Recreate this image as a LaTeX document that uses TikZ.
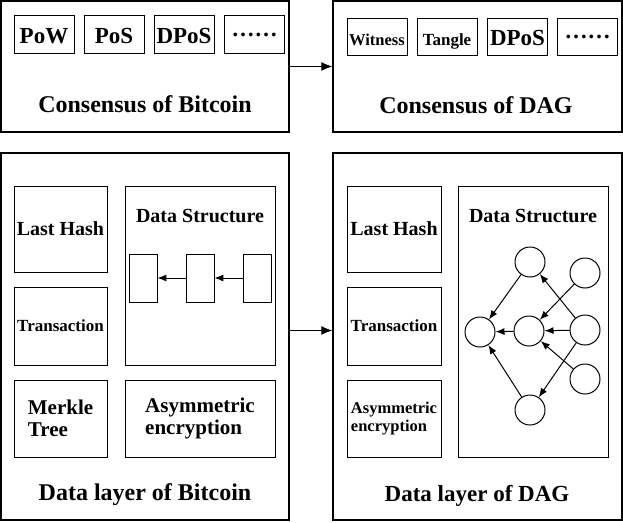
\documentclass[tikz,border=0pt]{standalone}
\usepackage{fontspec}
\setmainfont{Liberation Serif}
\usetikzlibrary{arrows.meta,positioning}

\begin{document}
\begin{tikzpicture}[x=1pt, y=-1pt, every node/.style={font=\bfseries},
	fs/.style={font=\bfseries\fontsize{#1}{22}\selectfont},
	outer/.style={draw, line width=1.4pt, inner sep=0pt},
	cell/.style={draw, line width=1pt, inner sep=0pt, align=center},
	algo/.style={cell, minimum width=60pt, minimum height=38pt, text height=18pt, text depth=0pt},
	title/.style={anchor=base, fs=24},
	block/.style={draw, line width=0.8pt, minimum width=28pt, minimum height=48pt},
	vertex/.style={draw, circle, line width=1pt, minimum size=30pt, inner sep=0pt},
	link/.style={-{Latex[length=9pt,width=7pt]}, line width=1pt}]
	\useasboundingbox (0,0) rectangle (623,522);
	\node[outer, minimum width=288pt, minimum height=131pt] (cb) at (145,66.5) {};
	\node[outer, minimum width=289pt, minimum height=131pt] (cd) at (477.5,66.5) {};
	\node[outer, minimum width=288pt, minimum height=367pt] (bb) at (145,336.5) {};
	\node[outer, minimum width=289pt, minimum height=367pt] (bd) at (477.5,336.5) {};
	\node[algo, fs=23] (pow) at (44,34) {PoW};
	\node[algo, fs=23] (pos) at (114,34) {PoS};
	\node[algo, fs=23] (dpos1) at (184,34) {DPoS};
	\node[algo, fs=23] (etc1) at (254.5,34) {\raisebox{7pt}{……}};
	\node[algo, minimum height=37pt, fs=16.5] (wit) at (377,36.5) {Witness};
	\node[algo, minimum height=37pt, fs=17] (tan) at (447,36.5) {Tangle};
	\node[algo, minimum height=37pt, fs=23] (dpos2) at (517.5,36.5) {DPoS};
	\node[algo, minimum height=37pt, fs=23] (etc2) at (587.5,36.5) {\raisebox{7pt}{……}};
	\node[title] (cbt) at (145,112) {Consensus of Bitcoin};
	\node[title] (cdt) at (476,113) {Consensus of DAG};
	\node[title] (bbt) at (145,500) {Data layer of Bitcoin};
	\node[title, fs=23] (bdt) at (477,501) {Data layer of DAG};
	\node[cell, minimum width=93pt, minimum height=86pt, fs=20] (lh1) at (60.5,229) {Last Hash};
	\node[cell, minimum width=93pt, minimum height=78pt, fs=17] (tx1) at (60.5,326) {Transaction};
	\node[cell, minimum width=93pt, minimum height=77pt, fs=21, align=left] (mt1) at (60.5,418.5) {Merkle\\Tree};
	\node[cell, minimum width=150pt, minimum height=179pt] (ds1) at (200,275.5) {};
	\node[cell, minimum width=150pt, minimum height=77pt, fs=21, align=left] (as1) at (200,418.5) {Asymmetric\\encryption};
	\node[fs=20] (ds1t) at (200,216) {Data Structure};
	\node[block] (c1) at (143,278) {};
	\node[block] (c2) at (200,278) {};
	\node[block] (c3) at (257.5,278) {};
	\draw[link] (c3) -- (c2);
	\draw[link] (c2) -- (c1);
	\node[cell, minimum width=94pt, minimum height=86pt, fs=20] (lh2) at (394,229) {Last Hash};
	\node[cell, minimum width=94pt, minimum height=78pt, fs=17] (tx2) at (394,326) {Transaction};
	\node[cell, minimum width=94pt, minimum height=77pt, align=left, font=\bfseries\fontsize{16.5}{18}\selectfont] (as2) at (394,418.5) {Asymmetric\\encryption};
	\node[cell, minimum width=150pt, minimum height=271pt] (ds2) at (533,321.5) {};
	\node[fs=20] (ds2t) at (533,216) {Data Structure};
	\node[vertex] (v1) at (530,262) {};
	\node[vertex] (v2) at (585,273) {};
	\node[vertex] (v3) at (480,332) {};
	\node[vertex] (v4) at (529,331) {};
	\node[vertex] (v5) at (585,330) {};
	\node[vertex] (v6) at (585,379) {};
	\node[vertex] (v7) at (530,410) {};
	\foreach \a/\b in {v1/v3, v2/v4, v5/v1, v5/v4, v4/v3, v6/v4, v5/v7, v7/v3}
		\draw[link] (\a) -- (\b);
	\draw[link, -{Latex[length=11pt,width=9pt]}] (cb) -- (cd);
	\draw[link, -{Latex[length=11pt,width=9pt]}] ([yshift=6pt]bb.east) -- ([yshift=6pt]bd.west);
\end{tikzpicture}
\end{document}
